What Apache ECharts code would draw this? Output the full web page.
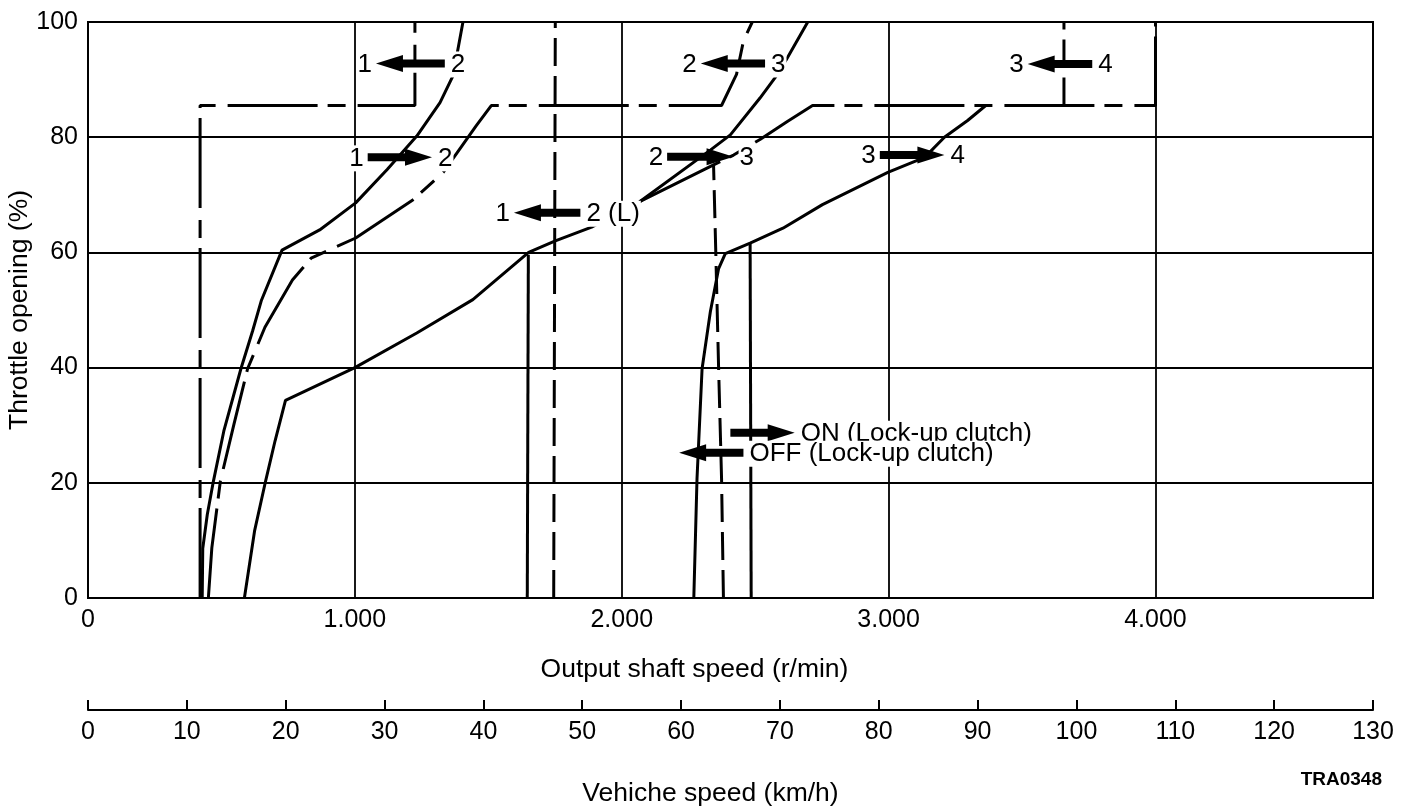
<!DOCTYPE html>
<html>
<head>
<meta charset="utf-8">
<script src="https://cdn.jsdelivr.net/npm/echarts@6/dist/echarts.min.js"></script>
<style>
  html, body { margin: 0; padding: 0; background: #fff; }
  #chart { width: 1402px; height: 812px; }
</style>
</head>
<body>
<div id="chart"></div>
<script>
// shift lines: [output shaft speed r/min, throttle opening %]
const down12 = [[420, 0], [420, 85.5], [1225, 85.5], [1225, 100]];
const up12 = [[428, 0], [430, 8.6], [447, 14.5], [470, 20.3], [509, 29], [573, 39.8], [617, 46.4], [650, 51.7],
  [727, 60.4], [868, 63.9], [1003, 68.6], [1121, 74.4], [1232, 80.2], [1319, 86], [1368, 90.7], [1405, 100]];
const down23 = [[451, 0], [464, 8.7], [496, 20.3], [547, 30.2], [598, 39.8], [663, 47], [766, 55.2], [836, 59],
  [1003, 62.5], [1220, 69.2], [1331, 73.9], [1455, 82], [1511, 85.5], [2374, 85.5], [2430, 90.9], [2456, 96.7], [2489, 100]];
const up23 = [[586, 0], [624, 11.6], [663, 19.8], [701, 27.3], [740, 34.3], [1000, 40], [1232, 46], [1442, 51.8],
  [1651, 60], [1751, 62], [1887, 64.4], [2067, 68.8], [2333, 77.8], [2407, 80.4], [2518, 86.8], [2574, 90.3], [2617, 93.5], [2697, 100]];
const up23Low = [[1646, 0], [1650, 59.6]];
const down12L = [[1745, 0], [1751, 100]];
const down34 = [[2067, 68.8], [2344, 75.2], [2419, 76.9], [2518, 79.6], [2619, 82.7], [2715, 85.5], [4000, 85.5], [4000, 100]];
const down34Kick = [[3657, 85.5], [3657, 100]];
const up34 = [[2270, 0], [2282, 20.7], [2301, 39.8], [2332, 49.7], [2363, 57.2], [2388, 59.8], [2481, 61.6], [2604, 64.2],
  [2752, 68.3], [2997, 73.9], [3135, 76.5], [3209, 80], [3296, 82.9], [3364, 85.5]];
const lockOn = [[2485, 0], [2481, 61.6]];
const lockOff = [[2381, 0], [2374, 20.7], [2363, 39.8], [2352, 60.7], [2344, 75.2]];

// arrows: [left end, right end, throttle %, direction]
const arrows = [
  [1079, 1337, 92.8, -1],
  [1048, 1289, 76.5, 1],
  [2296, 2537, 92.8, -1],
  [2170, 2419, 76.6, 1],
  [1596, 1845, 66.9, -1],
  [2967, 3209, 76.9, 1],
  [3521, 3763, 92.7, -1],
  [2407, 2648, 28.7, 1],
  [2215, 2456, 25.2, -1]
];
const arrowLeftText = ['1', '1', '2', '2', '1', '3', '3', '', ''];
const arrowRightText = ['2', '2', '3', '3', '2 (L)', '4', '4', 'ON (Lock-up clutch)', 'OFF (Lock-up clutch)'];

const FONT = '"Liberation Sans", Arial, sans-serif';
const chain = [90, 10, 18, 12];
const dash = [28, 10];

function shiftLine(data, type) {
  return {
    type: 'line', data: data, symbol: 'none', silent: true, z: 3,
    lineStyle: { color: '#000', width: 3, type: type }
  };
}

function renderArrow(params, api) {
  const a = api.coord([api.value(0), api.value(2)]);
  const b = api.coord([api.value(1), api.value(2)]);
  const y = a[1];
  const hw = 4, hh = 8.5, hl = 27;
  let pts;
  if (api.value(3) > 0) {
    pts = [[a[0], y - hw], [b[0] - hl, y - hw], [b[0] - hl, y - hh], [b[0], y], [b[0] - hl, y + hh], [b[0] - hl, y + hw], [a[0], y + hw]];
  } else {
    pts = [[b[0], y - hw], [a[0] + hl, y - hw], [a[0] + hl, y - hh], [a[0], y], [a[0] + hl, y + hh], [a[0] + hl, y + hw], [b[0], y + hw]];
  }
  const i = params.dataIndex;
  const kids = [{ type: 'polygon', shape: { points: pts }, style: { fill: '#000' } }];
  if (arrowLeftText[i]) {
    kids.push({ type: 'text', style: { text: arrowLeftText[i], x: a[0] - 3, y: y + 1, align: 'right', verticalAlign: 'middle',
      fontSize: 26, fontFamily: FONT, fill: '#000', backgroundColor: '#fff', padding: [0, 1] } });
  }
  if (arrowRightText[i]) {
    kids.push({ type: 'text', style: { text: arrowRightText[i], x: b[0] + 5, y: y + 1, align: 'left', verticalAlign: 'middle',
      fontSize: 26, fontFamily: FONT, fill: '#000', backgroundColor: '#fff', padding: [0, 1] } });
  }
  return { type: 'group', children: kids };
}

const chart = echarts.init(document.getElementById('chart'));
chart.setOption({
  animation: false,
  backgroundColor: '#fff',
  grid: {
    left: 88, top: 22, right: 29, height: 576, show: true, borderColor: '#000', borderWidth: 2,
    containLabel: false, outerBoundsMode: 'none'
  },
  xAxis: [
    {
      type: 'value', min: 0, max: 4815, interval: 1000,
      axisLine: { show: false }, axisTick: { show: false },
      splitLine: { show: true, lineStyle: { color: '#000', width: 1.8 } },
      axisLabel: {
        color: '#000', fontSize: 25, fontFamily: FONT, margin: 10,
        formatter: function (v) { return v % 1000 !== 0 ? '' : (v === 0 ? '0' : (v / 1000) + '.000'); }
      },
      name: 'Output shaft speed (r/min)', nameLocation: 'middle', nameGap: 58,
      nameTextStyle: { color: '#000', fontSize: 26.5, fontFamily: FONT, padding: [0, 72, 0, 0] }
    },
    {
      type: 'value', min: 0, max: 130, interval: 10, position: 'bottom', offset: 112,
      axisLine: { show: true, lineStyle: { color: '#000', width: 2 } },
      axisTick: { show: true, inside: true, length: 10, lineStyle: { color: '#000', width: 2 } },
      splitLine: { show: false },
      axisLabel: { color: '#000', fontSize: 25, fontFamily: FONT, margin: 10 },
      name: 'Vehiche speed (km/h)', nameLocation: 'middle', nameGap: 70,
      nameTextStyle: { color: '#000', fontSize: 26.5, fontFamily: FONT, padding: [0, 40, 0, 0] }
    }
  ],
  yAxis: {
    type: 'value', min: 0, max: 100, interval: 20,
    axisLine: { show: false }, axisTick: { show: false },
    splitLine: { show: true, lineStyle: { color: '#000', width: 1.8 } },
    axisLabel: { color: '#000', fontSize: 25, fontFamily: FONT, margin: 10 },
    name: 'Throttle opening (%)', nameLocation: 'middle', nameGap: 55, nameRotate: 90, nameMoveOverlap: false,
    nameTextStyle: { color: '#000', fontSize: 26.5, fontFamily: FONT }
  },
  graphic: [{
    type: 'text', right: 20, top: 770,
    style: { text: 'TRA0348', fontSize: 19, fontWeight: 'bold', fontFamily: FONT, fill: '#000' }
  }],
  series: [
    shiftLine(down12, chain),
    shiftLine(up12, 'solid'),
    shiftLine(down23, chain),
    shiftLine(up23, 'solid'),
    shiftLine(up23Low, 'solid'),
    shiftLine(down12L, dash),
    shiftLine(down34, chain),
    shiftLine(down34Kick, dash),
    shiftLine(up34, 'solid'),
    shiftLine(lockOn, 'solid'),
    shiftLine(lockOff, dash),
    {
      type: 'custom', data: arrows, renderItem: renderArrow, silent: true, z: 5,
      encode: { x: [0, 1], y: 2 }
    }
  ]
});
</script>
</body>
</html>
